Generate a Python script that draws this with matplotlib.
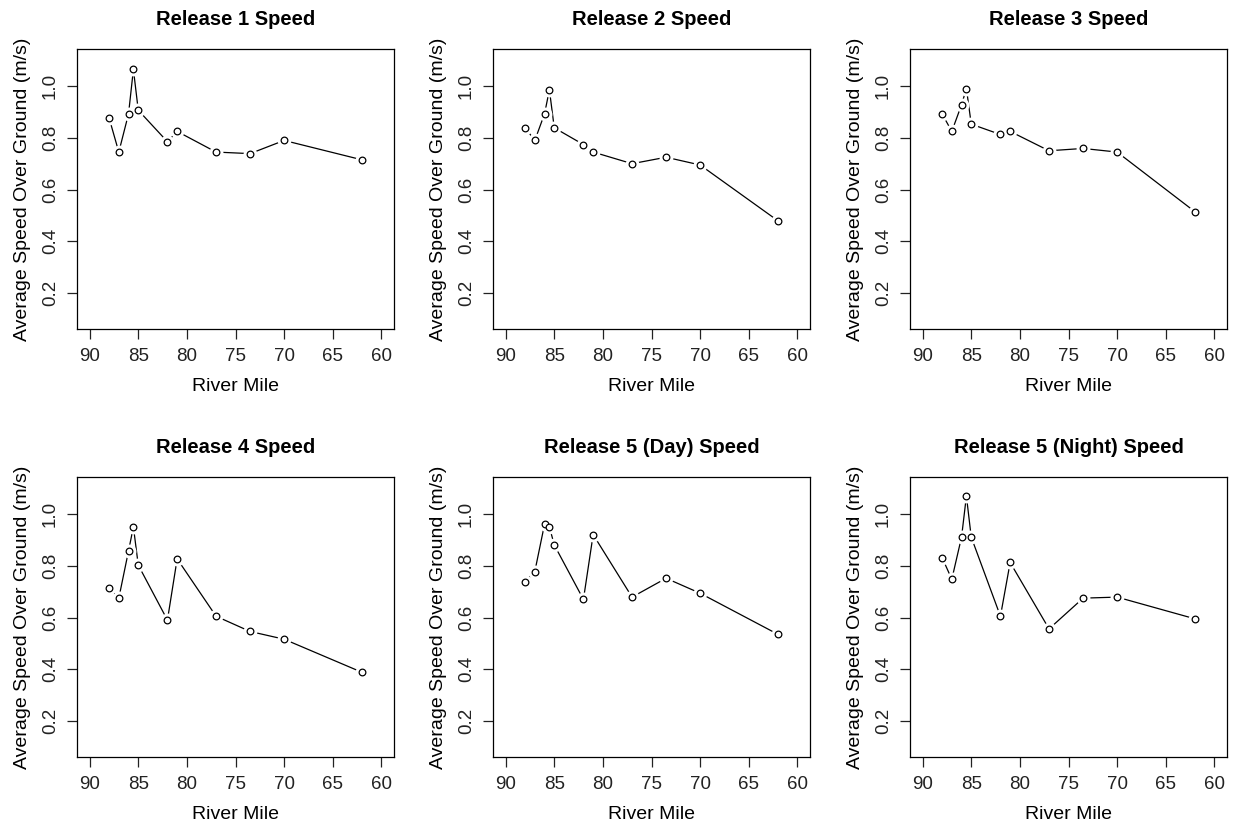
import matplotlib
matplotlib.use("Agg")
import matplotlib.pyplot as plt

plt.rcParams['font.family'] = ['Liberation Sans', 'DejaVu Sans']

# River mile of each receiver (same for all releases)
river_mile = [88.0, 87.0, 86.0, 85.5, 85.0, 82.0, 81.0, 77.0, 73.5, 70.0, 62.0]

# Average speed over ground (m/s) per release
release1 = [0.877, 0.745, 0.893, 1.065, 0.907, 0.785, 0.825, 0.745, 0.739, 0.790, 0.715]
release2 = [0.839, 0.790, 0.893, 0.986, 0.839, 0.774, 0.745, 0.700, 0.725, 0.695, 0.479]
release3 = [0.893, 0.825, 0.928, 0.991, 0.853, 0.813, 0.825, 0.750, 0.759, 0.745, 0.514]
release4 = [0.714, 0.675, 0.858, 0.951, 0.803, 0.590, 0.827, 0.605, 0.546, 0.516, 0.388]
release5_day = [0.738, 0.778, 0.961, 0.951, 0.881, 0.670, 0.921, 0.679, 0.752, 0.694, 0.535]
release5_night = [0.832, 0.748, 0.911, 1.070, 0.911, 0.605, 0.813, 0.556, 0.675, 0.679, 0.595]

titles = ["Release 1 Speed", "Release 2 Speed", "Release 3 Speed",
          "Release 4 Speed", "Release 5 (Day) Speed", "Release 5 (Night) Speed"]
series = [release1, release2, release3, release4, release5_day, release5_night]

W, H = 1234, 827
fig = plt.figure(figsize=(W / 100, H / 100), dpi=100)

lefts = [77, 493, 910]
tops = [49, 477]
aw, ah = 317, 280

for i, (title, speeds) in enumerate(zip(titles, series)):
    left = lefts[i % 3]
    top = tops[i // 3]
    ax = fig.add_axes([left / W, 1 - (top + ah) / H, aw / W, ah / H])

    # R style type="b": line with gaps around the points
    ax.plot(river_mile, speeds, color='black', lw=0.9, zorder=1)
    ax.plot(river_mile, speeds, ls='none', marker='o', ms=10,
            mfc='white', mec='none', zorder=2)
    ax.plot(river_mile, speeds, ls='none', marker='o', ms=4.8,
            mfc='white', mec='black', mew=0.9, zorder=3)

    ax.set_xlim(91.3, 58.7)
    ax.set_ylim(0.06, 1.144)
    ax.set_xticks([90, 85, 80, 75, 70, 65, 60])
    ax.set_yticks([0.2, 0.4, 0.6, 0.8, 1.0])
    ax.set_yticklabels(["0.2", "0.4", "0.6", "0.8", "1.0"], rotation=90, va='center')
    ax.tick_params(direction='out', length=7, width=0.9, labelsize=13.5,
                   colors='#222222', pad=7)
    ax.tick_params(axis='y', pad=6)
    for s in ax.spines.values():
        s.set_linewidth(0.9)

    ax.set_title(title, fontsize=14.5, fontweight='bold', pad=17)
    ax.set_xlabel("River Mile", fontsize=14, labelpad=9)
    ax.set_ylabel("Average Speed Over Ground (m/s)", fontsize=14, labelpad=8)

fig.savefig("out.png", dpi=100)
